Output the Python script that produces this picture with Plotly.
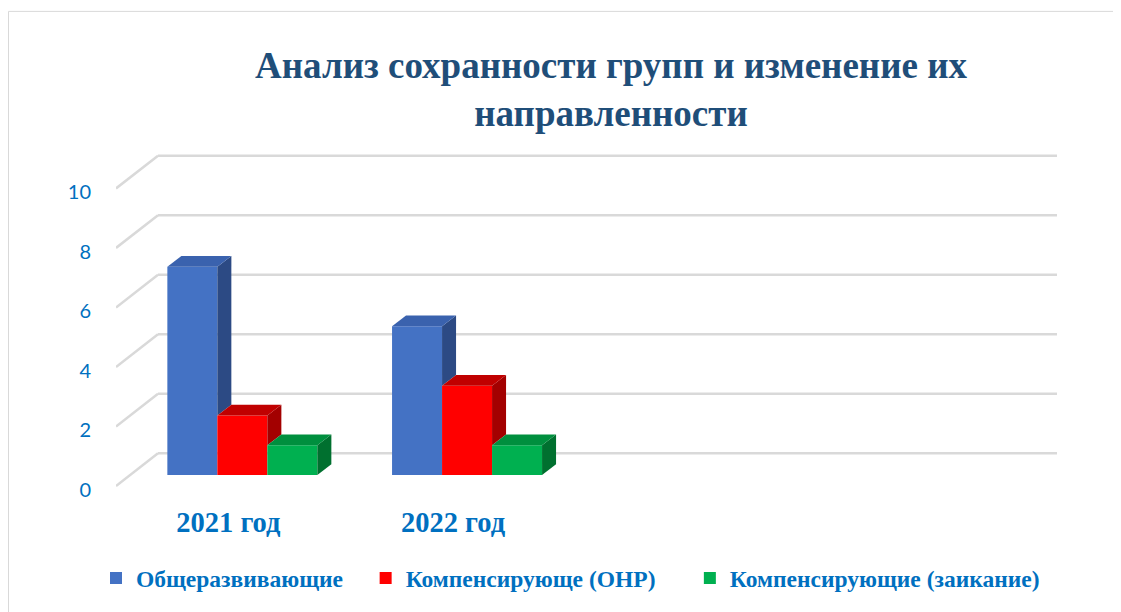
import plotly.graph_objects as go

# ---------------- data ----------------
categories = ["2021 год", "2022 год", "", ""]
series_names = ["Общеразвивающие", "Компенсирующе (ОНР)", "Компенсирующие (заикание)"]
obshcherazv = [7, 5, None, None]
komp_onr = [2, 3, None, None]
komp_zaik = [1, 1, None, None]
y_ticks = [0, 2, 4, 6, 8, 10]

title_text = "Анализ сохранности групп и изменение их<br>направленности"

front_colors = ["#4472C4", "#FF0000", "#00B050"]
top_colors = ["#3A62AE", "#C00000", "#008F3E"]
side_colors = ["#2C4A84", "#A30000", "#00702F"]

series_values = [obshcherazv, komp_onr, komp_zaik]

# ---------------- geometry (page pixels -> axis units) ----------------
OFF = 8                      # default page margin of the html body
W, H = 1121 - OFF, 612 - OFF
PX_L, PX_R = 116 - OFF, 1057 - OFF
PX_T, PX_B = 120 - OFF, 490 - OFF
ZERO_PX = 489 - OFF
X0 = -0.5
X1 = X0 + (PX_R - PX_L) / 224.7
PXX = (PX_R - PX_L) / (X1 - X0)
PXY = 30.0
Y0 = -(PX_B - ZERO_PX) / PXY
Y1 = Y0 + (PX_B - PX_T) / PXY
WDX = 42 / PXX      # wall depth (x units)
WDY = 33 / PXY      # wall depth (y units)
D1, D2 = 1 / 3, 2 / 3
BW = 50 / PXX
GROUP = 3 * BW
DDX = (D2 - D1) * WDX
DDY = (D2 - D1) * WDY
BASE = D1 * WDY

fig = go.Figure()

idx = list(range(len(categories)))

# front faces as bars
pad = [3, 5, 0]
for k, vals in enumerate(series_values):
    off = -GROUP / 2 + k * BW + D1 * WDX
    fig.add_trace(go.Bar(
        x=idx, y=vals, base=BASE, offset=off, width=BW,
        name=series_names[k] + "\u00a0" * pad[k],
        marker=dict(color=front_colors[k], line=dict(width=0)),
        hoverinfo="skip",
    ))

# top and side faces
for i in idx:
    for k, vals in enumerate(series_values):
        v = vals[i]
        if v is None:
            continue
        xl = i - GROUP / 2 + k * BW + D1 * WDX
        xr = xl + BW
        top = BASE + v
        if k + 1 < len(series_values) and series_values[k + 1][i] is not None:
            sb = BASE + min(series_values[k + 1][i], v)
        else:
            sb = BASE
        if sb < top:
            fig.add_trace(go.Scatter(
                x=[xr, xr, xr + DDX, xr + DDX, xr],
                y=[sb, top, top + DDY, sb + DDY, sb],
                fill="toself", fillcolor=side_colors[k], mode="lines",
                line=dict(width=0, color=side_colors[k]), showlegend=False, hoverinfo="skip"))
        fig.add_trace(go.Scatter(
            x=[xl, xr, xr + DDX, xl + DDX, xl],
            y=[top, top, top + DDY, top + DDY, top],
            fill="toself", fillcolor=top_colors[k], mode="lines",
            line=dict(width=0, color=top_colors[k]), showlegend=False, hoverinfo="skip"))

# wall gridlines
shapes = []
for t in y_ticks:
    shapes.append(dict(type="line", xref="x", yref="y", x0=X0, y0=t, x1=X0 + WDX, y1=t + WDY,
                       line=dict(color="#D9D9D9", width=2.5), layer="below"))
    shapes.append(dict(type="line", xref="x", yref="y", x0=X0 + WDX, y0=t + WDY, x1=X1, y1=t + WDY,
                       line=dict(color="#D9D9D9", width=2.5), layer="below"))

def px2paper_x(px):
    return (px - OFF - PX_L) / (PX_R - PX_L)

def px2paper_y(py):
    return (PX_B - (py - OFF)) / (PX_B - PX_T)

# chart border
shapes.append(dict(type="rect", xref="paper", yref="paper",
                   x0=px2paper_x(8.5), y0=px2paper_y(640), x1=px2paper_x(1150), y1=px2paper_y(10.5),
                   line=dict(color="#D9D9D9", width=1), fillcolor="rgba(0,0,0,0)", layer="below"))

blue = "#0070C0"
fig.update_layout(
    width=W, height=H,
    margin=dict(l=PX_L, r=W - PX_R, t=PX_T, b=H - PX_B),
    paper_bgcolor="white", plot_bgcolor="white",
    barmode="overlay",
    shapes=shapes,
    title=dict(text=title_text, x=(611 - OFF) / W, xanchor="center", xref="container",
               y=1 - 70 / H, yanchor="top", yref="container",
               font=dict(family="Liberation Serif", size=37, color="#1F4E79", weight="bold")),
    xaxis=dict(range=[X0, X1], tickvals=idx, ticktext=categories, showgrid=False, zeroline=False,
               showline=False, ticks="outside", ticklen=10, tickcolor="rgba(0,0,0,0)",
               tickfont=dict(family="Liberation Serif", size=28.5, color=blue, weight="bold")),
    yaxis=dict(range=[Y0, Y1], tickvals=y_ticks, showgrid=False, zeroline=False, showline=False,
               ticks="outside", ticklen=20, tickcolor="rgba(0,0,0,0)", ticklabelshift=4,
               tickfont=dict(family="Lato", size=20, color=blue)),
    legend=dict(orientation="h", x=px2paper_x(96), xanchor="left", y=px2paper_y(582), yanchor="middle",
                font=dict(family="Liberation Serif", size=23.5, color=blue, weight="bold"),
                itemwidth=30, traceorder="normal", bgcolor="rgba(0,0,0,0)"),
    showlegend=True,
)

fig.write_html("out.html")
